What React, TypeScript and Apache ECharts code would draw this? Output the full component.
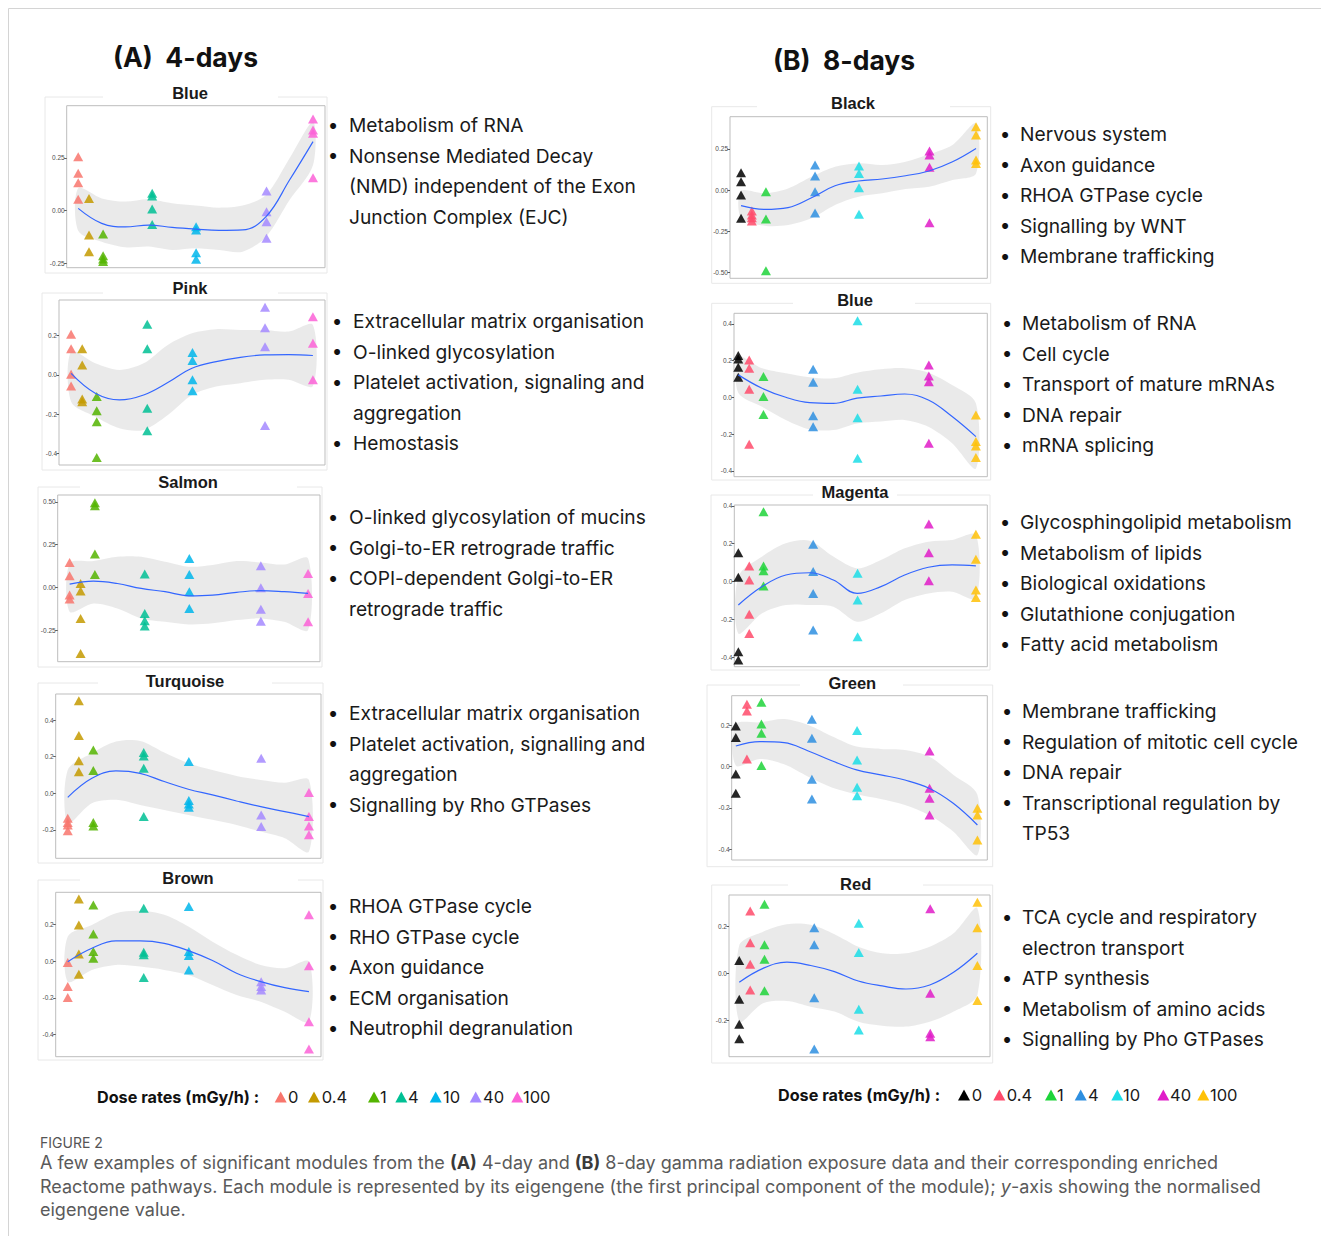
import React, { useEffect, useRef } from 'react';
import * as echarts from 'echarts';

// ---------------- DATA ----------------
const DOSE_LABELS = ['0', '0.4', '1', '4', '10', '40', '100'];
const DOSE_COLORS_A = ['#F8766D', '#C49A00', '#53B400', '#00C094', '#00B6EB', '#A58AFF', '#FB61D7'];
const DOSE_COLORS_B = ['#000000', '#FF4B6B', '#1ED43A', '#2E8FE0', '#1BDDE6', '#E01CC8', '#FFC107'];
// horizontal position of each dose group on the (transformed) dose axis
const DOSE_POS = [0, 0.046, 0.106, 0.315, 0.502, 0.802, 1];
// positions where the loess fit and its band were read
const FIT_POS = [0, 0.1, 0.2, 0.3, 0.4, 0.5, 0.6, 0.7, 0.8, 0.9, 1];

// ---- (A) 4-days ----
const A_BLUE_POINTS = [
  [0.255, 0.177, 0.132, 0.054],
  [0.058, -0.115, -0.194],
  [-0.11, -0.213, -0.229, -0.241],
  [0.082, 0.069, 0.008, -0.065],
  [-0.076, -0.091, -0.199, -0.23],
  [0.093, -0.005, -0.052, -0.131],
  [0.434, 0.382, 0.366, 0.156],
];
const A_BLUE_FIT = [0.011, -0.06, -0.077, -0.068, -0.079, -0.087, -0.093, -0.091, -0.028, 0.145, 0.327];
const A_BLUE_HI = [0.106, 0.058, 0.043, 0.054, 0.035, 0.024, 0.014, 0.024, 0.074, 0.248, 0.421];
const A_BLUE_LO = [-0.095, -0.147, -0.173, -0.17, -0.186, -0.178, -0.186, -0.194, -0.123, 0.05, 0.216];

const A_PINK_POINTS = [
  [0.207, 0.133, 0.003, -0.056],
  [0.133, 0.051, -0.122, -0.136],
  [-0.11, -0.182, -0.238, -0.421],
  [0.258, 0.133, -0.17, -0.285],
  [0.114, 0.073, -0.025, -0.08],
  [0.345, 0.241, 0.144, -0.258],
  [0.297, 0.161, -0.025],
];
const A_PINK_FIT = [0.008, -0.093, -0.127, -0.102, -0.039, 0.034, 0.068, 0.09, 0.102, 0.104, 0.099];
const A_PINK_HI = [0.119, 0.059, 0.025, 0.059, 0.153, 0.212, 0.233, 0.229, 0.229, 0.221, 0.255];
const A_PINK_LO = [-0.136, -0.212, -0.272, -0.28, -0.204, -0.102, -0.059, -0.042, -0.025, -0.025, -0.056];

const A_SALMON_POINTS = [
  [0.146, 0.068, -0.045, -0.068],
  [0.023, -0.021, -0.181, -0.386],
  [0.495, 0.477, 0.195, 0.076],
  [0.078, -0.152, -0.195, -0.226],
  [0.169, 0.076, -0.025, -0.123],
  [0.127, -0.002, -0.127, -0.197],
  [0.082, -0.035, -0.201],
];
const A_SALMON_FIT = [0.019, 0.037, 0.023, -0.006, -0.025, -0.049, -0.045, -0.029, -0.019, -0.025, -0.035];
const A_SALMON_HI = [0.14, 0.154, 0.179, 0.179, 0.15, 0.121, 0.131, 0.154, 0.146, 0.134, 0.169];
const A_SALMON_LO = [-0.142, -0.094, -0.123, -0.181, -0.201, -0.216, -0.21, -0.191, -0.181, -0.201, -0.249];

const A_TURQUOISE_POINTS = [
  [-0.136, -0.16, -0.173, -0.204],
  [0.505, 0.315, 0.178, 0.118],
  [0.236, 0.124, -0.16, -0.178],
  [0.222, 0.204, 0.136, -0.127],
  [0.173, -0.04, -0.058, -0.076],
  [0.191, -0.118, -0.182],
  [0.004, -0.127, -0.178, -0.227],
];
const A_TURQUOISE_FIT = [-0.022, 0.082, 0.122, 0.109, 0.064, 0.022, -0.009, -0.042, -0.073, -0.1, -0.127];
const A_TURQUOISE_HI = [0.127, 0.218, 0.282, 0.285, 0.222, 0.164, 0.127, 0.095, 0.073, 0.058, 0.073];
const A_TURQUOISE_LO = [-0.164, -0.055, -0.036, -0.064, -0.091, -0.118, -0.145, -0.173, -0.209, -0.245, -0.318];

const A_BROWN_POINTS = [
  [-0.007, -0.138, -0.198],
  [0.34, 0.198, 0.04, -0.071],
  [0.307, 0.149, 0.053, 0.016],
  [0.289, 0.049, 0.035, -0.089],
  [0.298, 0.053, 0.031, -0.047],
  [-0.111, -0.138, -0.156],
  [0.253, -0.024, -0.329, -0.478],
];
const A_BROWN_FIT = [-0.002, 0.071, 0.111, 0.111, 0.098, 0.058, 0.004, -0.065, -0.111, -0.144, -0.165];
const A_BROWN_HI = [0.135, 0.198, 0.262, 0.275, 0.253, 0.189, 0.107, 0.035, -0.02, -0.038, -0.002];
const A_BROWN_LO = [-0.111, -0.047, -0.02, -0.029, -0.047, -0.075, -0.129, -0.184, -0.22, -0.275, -0.329];

// ---- (B) 8-days ----
const B_BLACK_POINTS = [
  [0.105, 0.051, -0.03, -0.172],
  [-0.128, -0.152, -0.168, -0.189],
  [-0.01, -0.176, -0.491],
  [0.152, 0.085, -0.01, -0.14],
  [0.146, 0.101, 0.014, -0.148],
  [0.237, 0.213, 0.138, -0.199],
  [0.385, 0.334, 0.182, 0.162],
];
const B_BLACK_FIT = [-0.095, -0.118, -0.107, -0.047, 0.026, 0.055, 0.067, 0.087, 0.116, 0.172, 0.253];
const B_BLACK_HI = [-0.006, -0.02, 0.01, 0.081, 0.142, 0.162, 0.152, 0.172, 0.217, 0.274, 0.405];
const B_BLACK_LO = [-0.172, -0.217, -0.213, -0.172, -0.091, -0.041, -0.02, 0.006, 0.02, 0.061, 0.101];

const B_BLUE_POINTS = [
  [0.227, 0.209, 0.163, 0.109],
  [0.203, 0.158, 0.044, -0.256],
  [0.113, 0.004, -0.093],
  [0.152, 0.082, -0.1, -0.16],
  [0.417, 0.044, -0.111, -0.332],
  [0.176, 0.116, 0.085, -0.25],
  [-0.096, -0.241, -0.265, -0.327],
];
const B_BLUE_FIT = [0.122, 0.049, 0.0, -0.029, -0.033, -0.005, 0.007, 0.018, -0.015, -0.105, -0.214];
const B_BLUE_HI = [0.221, 0.158, 0.131, 0.109, 0.103, 0.134, 0.152, 0.158, 0.134, 0.067, -0.033];
const B_BLUE_LO = [0.025, -0.051, -0.123, -0.174, -0.178, -0.142, -0.132, -0.123, -0.16, -0.25, -0.387];

const B_MAGENTA_POINTS = [
  [0.153, 0.023, -0.369, -0.413],
  [0.083, 0.009, -0.172, -0.273],
  [0.369, 0.083, 0.058, -0.023],
  [0.197, 0.053, -0.062, -0.255],
  [0.044, -0.097, -0.29],
  [0.304, 0.153, 0.005],
  [0.25, 0.118, -0.044, -0.083],
];
const B_MAGENTA_FIT = [-0.123, -0.026, 0.035, 0.047, 0.009, -0.062, -0.026, 0.035, 0.076, 0.088, 0.083];
const B_MAGENTA_HI = [0.026, 0.132, 0.202, 0.216, 0.132, 0.07, 0.114, 0.176, 0.211, 0.22, 0.246];
const B_MAGENTA_LO = [-0.273, -0.167, -0.123, -0.123, -0.132, -0.211, -0.167, -0.097, -0.062, -0.053, -0.088];

const B_GREEN_POINTS = [
  [0.197, 0.141, -0.036, -0.129],
  [0.302, 0.27, 0.037],
  [0.312, 0.207, 0.162, 0.005],
  [0.23, 0.137, -0.061, -0.157],
  [0.175, 0.032, -0.1, -0.141],
  [0.076, -0.105, -0.154, -0.235],
  [-0.202, -0.235, -0.356],
];
const B_GREEN_FIT = [0.1, 0.121, 0.116, 0.076, 0.027, -0.016, -0.04, -0.065, -0.105, -0.178, -0.283];
const B_GREEN_HI = [0.205, 0.215, 0.231, 0.202, 0.146, 0.097, 0.086, 0.081, 0.049, -0.04, -0.137];
const B_GREEN_LO = [0.005, 0.037, 0.011, -0.049, -0.102, -0.134, -0.157, -0.186, -0.235, -0.315, -0.429];

const B_RED_POINTS = [
  [0.054, -0.111, -0.217, -0.279],
  [0.265, 0.13, 0.038, -0.071],
  [0.294, 0.121, 0.06, -0.074],
  [0.194, 0.121, -0.104, -0.322],
  [0.213, 0.088, -0.153, -0.241],
  [0.274, -0.085, -0.255, -0.27],
  [0.302, 0.194, 0.033, -0.116],
];
const B_RED_FIT = [-0.038, 0.021, 0.047, 0.033, 0.007, -0.033, -0.054, -0.067, -0.05, 0.004, 0.085];
const B_RED_HI = [0.118, 0.177, 0.209, 0.206, 0.166, 0.113, 0.085, 0.085, 0.113, 0.17, 0.277];
const B_RED_LO = [-0.206, -0.128, -0.118, -0.142, -0.163, -0.206, -0.223, -0.227, -0.206, -0.163, -0.092];

// y tick labels
const TICKS_25_A = [-0.25, 0, 0.25];
const TICKS_20_PINK = [-0.4, -0.2, 0, 0.2];
const TICKS_25_SALMON = [-0.25, 0, 0.25, 0.5];
const TICKS_20_TURQ = [-0.2, 0, 0.2, 0.4];
const TICKS_20_BROWN = [-0.4, -0.2, 0, 0.2];
const TICKS_25_BLACK = [-0.5, -0.25, 0, 0.25];
const TICKS_20_BBLUE = [-0.4, -0.2, 0, 0.2, 0.4];
const TICKS_20_MAGENTA = [-0.4, -0.2, 0, 0.2, 0.4];
const TICKS_20_GREEN = [-0.4, -0.2, 0, 0.2];
const TICKS_20_RED = [-0.2, 0, 0.2];

// enriched pathways
const A_BLUE_PATHWAYS = [['Metabolism of RNA'], ['Nonsense Mediated Decay', '(NMD) independent of the Exon', 'Junction Complex (EJC)']];
const A_PINK_PATHWAYS = [['Extracellular matrix organisation'], ['O-linked glycosylation'], ['Platelet activation, signaling and', 'aggregation'], ['Hemostasis']];
const A_SALMON_PATHWAYS = [['O-linked glycosylation of mucins'], ['Golgi-to-ER retrograde traffic'], ['COPI-dependent Golgi-to-ER', 'retrograde traffic']];
const A_TURQUOISE_PATHWAYS = [['Extracellular matrix organisation'], ['Platelet activation, signalling and', 'aggregation'], ['Signalling by Rho GTPases']];
const A_BROWN_PATHWAYS = [['RHOA GTPase cycle'], ['RHO GTPase cycle'], ['Axon guidance'], ['ECM organisation'], ['Neutrophil degranulation']];
const B_BLACK_PATHWAYS = [['Nervous system'], ['Axon guidance'], ['RHOA GTPase cycle'], ['Signalling by WNT'], ['Membrane trafficking']];
const B_BLUE_PATHWAYS = [['Metabolism of RNA'], ['Cell cycle'], ['Transport of mature mRNAs'], ['DNA repair'], ['mRNA splicing']];
const B_MAGENTA_PATHWAYS = [['Glycosphingolipid metabolism'], ['Metabolism of lipids'], ['Biological oxidations'], ['Glutathione conjugation'], ['Fatty acid metabolism']];
const B_GREEN_PATHWAYS = [['Membrane trafficking'], ['Regulation of mitotic cell cycle'], ['DNA repair'], ['Transcriptional regulation by', 'TP53']];
const B_RED_PATHWAYS = [['TCA cycle and respiratory', 'electron transport'], ['ATP synthesis'], ['Metabolism of amino acids'], ['Signalling by Pho GTPases']];

// ---------------- LAYOUT ----------------
type Panel = {
  title: string; colors: string[]; points: number[][]; fit: number[]; lo: number[]; hi: number[];
  pathways: string[][]; ticks: number[]; dec: number;
  grid: number[]; y: number[]; x: number[]; frame: number[]; titleXY: number[];
  bulletX: number; textX: number; listY: number;
};

const PANELS: Panel[] = [
  { title: 'Blue', colors: DOSE_COLORS_A, points: A_BLUE_POINTS, fit: A_BLUE_FIT, lo: A_BLUE_LO, hi: A_BLUE_HI, pathways: A_BLUE_PATHWAYS, ticks: TICKS_25_A, dec: 2,
    grid: [66.7, 105.7, 258.3, 162], y: [-0.27, 0.497], x: [-0.049, 1.051], frame: [45, 97, 327, 273, 103, 278], titleXY: [190, 93], bulletX: 333, textX: 349, listY: 125 },
  { title: 'Pink', colors: DOSE_COLORS_A, points: A_PINK_POINTS, fit: A_PINK_FIT, lo: A_PINK_LO, hi: A_PINK_HI, pathways: A_PINK_PATHWAYS, ticks: TICKS_20_PINK, dec: 1,
    grid: [59, 300, 266, 165], y: [-0.459, 0.382], x: [-0.05, 1.05], frame: [42, 293, 327, 470, 103, 278], titleXY: [190, 288], bulletX: 337, textX: 353, listY: 321 },
  { title: 'Salmon', colors: DOSE_COLORS_A, points: A_SALMON_POINTS, fit: A_SALMON_FIT, lo: A_SALMON_LO, hi: A_SALMON_HI, pathways: A_SALMON_PATHWAYS, ticks: TICKS_25_SALMON, dec: 2,
    grid: [57.7, 495, 262.3, 166.7], y: [-0.434, 0.54], x: [-0.05, 1.05], frame: [38, 487, 322, 667, 80, 297], titleXY: [188, 482], bulletX: 333, textX: 349, listY: 517 },
  { title: 'Turquoise', colors: DOSE_COLORS_A, points: A_TURQUOISE_POINTS, fit: A_TURQUOISE_FIT, lo: A_TURQUOISE_LO, hi: A_TURQUOISE_HI, pathways: A_TURQUOISE_PATHWAYS, ticks: TICKS_20_TURQ, dec: 1,
    grid: [55.7, 694, 265.3, 164.3], y: [-0.355, 0.542], x: [-0.05, 1.05], frame: [38, 683, 323, 863, 98, 272], titleXY: [185, 680.5], bulletX: 333, textX: 349, listY: 713 },
  { title: 'Brown', colors: DOSE_COLORS_A, points: A_BROWN_POINTS, fit: A_BROWN_FIT, lo: A_BROWN_LO, hi: A_BROWN_HI, pathways: A_BROWN_PATHWAYS, ticks: TICKS_20_BROWN, dec: 1,
    grid: [55.7, 892.3, 265.3, 164.4], y: [-0.52, 0.376], x: [-0.05, 1.05], frame: [38, 880, 323, 1060, 80, 298], titleXY: [188, 878], bulletX: 333, textX: 349, listY: 906 },
  { title: 'Black', colors: DOSE_COLORS_B, points: B_BLACK_POINTS, fit: B_BLACK_FIT, lo: B_BLACK_LO, hi: B_BLACK_HI, pathways: B_BLACK_PATHWAYS, ticks: TICKS_25_BLACK, dec: 2,
    grid: [730, 116.7, 257.3, 161.6], y: [-0.537, 0.446], x: [-0.047, 1.048], frame: [711.7, 106.7, 990.7, 283.3, 757, 950], titleXY: [853, 102.5], bulletX: 1005, textX: 1020, listY: 134 },
  { title: 'Blue', colors: DOSE_COLORS_B, points: B_BLUE_POINTS, fit: B_BLUE_FIT, lo: B_BLUE_LO, hi: B_BLUE_HI, pathways: B_BLUE_PATHWAYS, ticks: TICKS_20_BBLUE, dec: 1,
    grid: [734, 313.3, 253.3, 163.4], y: [-0.432, 0.457], x: [-0.018, 1.048], frame: [711.7, 303.3, 990.7, 480, 793, 915], titleXY: [855, 300], bulletX: 1007, textX: 1022, listY: 323 },
  { title: 'Magenta', colors: DOSE_COLORS_B, points: B_MAGENTA_POINTS, fit: B_MAGENTA_FIT, lo: B_MAGENTA_LO, hi: B_MAGENTA_HI, pathways: B_MAGENTA_PATHWAYS, ticks: TICKS_20_MAGENTA, dec: 1,
    grid: [734.3, 505, 253, 161.7], y: [-0.448, 0.404], x: [-0.017, 1.048], frame: [711, 495, 990, 670, 813, 897], titleXY: [855, 492], bulletX: 1005, textX: 1020, listY: 522 },
  { title: 'Green', colors: DOSE_COLORS_B, points: B_GREEN_POINTS, fit: B_GREEN_FIT, lo: B_GREEN_LO, hi: B_GREEN_HI, pathways: B_GREEN_PATHWAYS, ticks: TICKS_20_GREEN, dec: 1,
    grid: [731.7, 695.7, 255.6, 164.3], y: [-0.453, 0.344], x: [-0.017, 1.041], frame: [707, 685, 992.7, 866.7, 800, 903], titleXY: [852.3, 683.3], bulletX: 1007, textX: 1022, listY: 711 },
  { title: 'Red', colors: DOSE_COLORS_B, points: B_RED_POINTS, fit: B_RED_FIT, lo: B_RED_LO, hi: B_RED_HI, pathways: B_RED_PATHWAYS, ticks: TICKS_20_RED, dec: 1,
    grid: [729, 895, 261, 161.7], y: [-0.355, 0.333], x: [-0.043, 1.053], frame: [711.7, 885, 992.7, 1063, 788, 923], titleXY: [855.7, 884.3], bulletX: 1007, textX: 1022, listY: 917 },
];

const LEGEND_A = { y: 1097, labelX: 97, tri: [280.7, 314, 374, 401.3, 435.7, 475.7, 517.3], txt: [288, 321.7, 380, 408, 443, 483, 523] };
const LEGEND_B = { y: 1095, labelX: 778, tri: [964, 999.3, 1051, 1080.7, 1117.3, 1163.3, 1203.3], txt: [971.7, 1006.7, 1057, 1088, 1123, 1170, 1210] };

const FONT = 'Inter, "Noto Sans", sans-serif';
const LINE_STEP = 30.6;

function buildOption(): any {
  const grid: any[] = [];
  const xAxis: any[] = [];
  const yAxis: any[] = [];
  const series: any[] = [];
  const graphic: any[] = [];

  PANELS.forEach((p, i) => {
    grid.push({ left: p.grid[0], top: p.grid[1], width: p.grid[2], height: p.grid[3], show: true, borderColor: '#bdbdbd', borderWidth: 1, backgroundColor: '#ffffff' });
    xAxis.push({ type: 'value', gridIndex: i, min: p.x[0], max: p.x[1], show: false, axisLine: { onZero: false } });
    yAxis.push({
      type: 'value', gridIndex: i, min: p.y[0], max: p.y[1],
      axisLine: { show: false, onZero: false }, splitLine: { show: false },
      axisTick: { show: true, length: 2.5, customValues: p.ticks, lineStyle: { color: '#333333', width: 0.8 } },
      axisLabel: { customValues: p.ticks, formatter: (v: number) => v.toFixed(p.dec), fontSize: 6.5, color: '#4d4d4d', margin: 2, fontFamily: '"Liberation Sans", Arial' },
    });
    series.push({
      type: 'custom', name: p.title + ' band', xAxisIndex: i, yAxisIndex: i, silent: true, z: 1, data: [[0, 0]],
      renderItem: (_params: any, api: any) => {
        const up = FIT_POS.map((x, k) => api.coord([x, p.hi[k]]));
        const dn = FIT_POS.map((x, k) => api.coord([x, p.lo[k]])).reverse();
        return { type: 'polygon', shape: { points: up.concat(dn), smooth: 0.3 }, style: { fill: 'rgba(150,150,150,0.2)' } };
      },
    });
    p.points.forEach((vals, g) => {
      series.push({
        type: 'scatter', name: DOSE_LABELS[g], xAxisIndex: i, yAxisIndex: i, symbol: 'triangle', symbolSize: [10, 9], z: 3,
        itemStyle: { color: p.colors[g], opacity: 0.85 },
        data: vals.map((v) => [DOSE_POS[g], v]),
      });
    });
    series.push({
      type: 'line', name: p.title + ' fit', xAxisIndex: i, yAxisIndex: i, silent: true, z: 4, smooth: 0.4, showSymbol: false,
      lineStyle: { color: '#3366FF', width: 1.2 },
      data: FIT_POS.map((x, k) => [x, p.fit[k]]),
    });

    const [l, t, r, b, g1, g2] = p.frame;
    graphic.push({ type: 'polyline', z: 0, silent: true, shape: { points: [[g1, t], [l, t], [l, b], [r, b], [r, t], [g2, t]] }, style: { stroke: '#e8e8e8', fill: null, lineWidth: 1 } });
    graphic.push({ type: 'text', x: p.titleXY[0], y: p.titleXY[1], style: { text: p.title, fontSize: 16.5, fontWeight: 'bold', fontFamily: '"Liberation Sans", Arial', fill: '#1a1a1a', align: 'center', verticalAlign: 'middle' } });

    let row = 0;
    p.pathways.forEach((item) => {
      graphic.push({ type: 'text', x: p.bulletX, y: p.listY + row * LINE_STEP, style: { text: '•', fontSize: 19, fontFamily: FONT, fill: '#111', align: 'center', verticalAlign: 'middle' } });
      item.forEach((line) => {
        graphic.push({ type: 'text', x: p.textX, y: p.listY + row * LINE_STEP, style: { text: line, fontSize: 19.2, fontFamily: FONT, fill: '#1a1a1a', align: 'left', verticalAlign: 'middle' } });
        row += 1;
      });
    });
  });

  // page border
  graphic.push({ type: 'line', silent: true, shape: { x1: 8.5, y1: 8.5, x2: 1321, y2: 8.5 }, style: { stroke: '#d4d4d4', lineWidth: 1 } });
  graphic.push({ type: 'line', silent: true, shape: { x1: 8.5, y1: 8.5, x2: 8.5, y2: 1236 }, style: { stroke: '#d4d4d4', lineWidth: 1 } });

  // section headings
  graphic.push({ type: 'text', x: 113, y: 57, style: { text: '(A)  4-days', fontSize: 26.5, fontWeight: 'bold', fontFamily: FONT, fill: '#111', verticalAlign: 'middle' } });
  graphic.push({ type: 'text', x: 773, y: 60, style: { text: '(B)  8-days', fontSize: 26.5, fontWeight: 'bold', fontFamily: FONT, fill: '#111', verticalAlign: 'middle' } });

  // legends
  [[LEGEND_A, DOSE_COLORS_A], [LEGEND_B, DOSE_COLORS_B]].forEach(([lg, cols]: any) => {
    graphic.push({ type: 'text', x: lg.labelX, y: lg.y, style: { text: 'Dose rates (mGy/h) :', fontSize: 16.2, fontWeight: 'bold', fontFamily: FONT, fill: '#111', verticalAlign: 'middle' } });
    DOSE_LABELS.forEach((lab, g) => {
      const cx = lg.tri[g];
      graphic.push({ type: 'polygon', silent: true, shape: { points: [[cx - 6, lg.y + 5.5], [cx + 6, lg.y + 5.5], [cx, lg.y - 5.5]] }, style: { fill: cols[g] } });
      graphic.push({ type: 'text', x: lg.txt[g], y: lg.y, style: { text: lab, fontSize: 16.5, fontFamily: FONT, fill: '#1a1a1a', verticalAlign: 'middle' } });
    });
  });

  // caption
  const capRich = {
    n: { fontSize: 18, fontFamily: FONT, fill: '#5a5a5a' },
    b: { fontSize: 18, fontFamily: FONT, fill: '#3a3a3a', fontWeight: 'bold' },
    i: { fontSize: 18, fontFamily: FONT, fill: '#5a5a5a', fontStyle: 'italic' },
  };
  graphic.push({ type: 'text', x: 40, y: 1142, style: { text: 'FIGURE 2', fontSize: 14, fontFamily: FONT, fill: '#555', verticalAlign: 'middle' } });
  graphic.push({ type: 'text', x: 40, y: 1162, style: { text: '{n|A few examples of significant modules from the }{b|(A)}{n| 4-day and }{b|(B)}{n| 8-day gamma radiation exposure data and their corresponding enriched}', rich: capRich, verticalAlign: 'middle' } });
  graphic.push({ type: 'text', x: 40, y: 1186, style: { text: '{n|Reactome pathways. Each module is represented by its eigengene (the first principal component of the module); }{i|y}{n|-axis showing the normalised}', rich: capRich, verticalAlign: 'middle' } });
  graphic.push({ type: 'text', x: 40, y: 1209, style: { text: '{n|eigengene value.}', rich: capRich, verticalAlign: 'middle' } });

  return { animation: false, backgroundColor: '#ffffff', textStyle: { fontFamily: FONT }, grid, xAxis, yAxis, series, graphic };
}

export default function App() {
  const ref = useRef<HTMLDivElement>(null);
  useEffect(() => {
    if (!ref.current) return;
    const chart = echarts.init(ref.current, undefined, { renderer: 'svg' });
    chart.setOption(buildOption());
    return () => chart.dispose();
  }, []);
  return <div ref={ref} style={{ position: 'absolute', left: 0, top: 0, width: 1329, height: 1236 }} />;
}
